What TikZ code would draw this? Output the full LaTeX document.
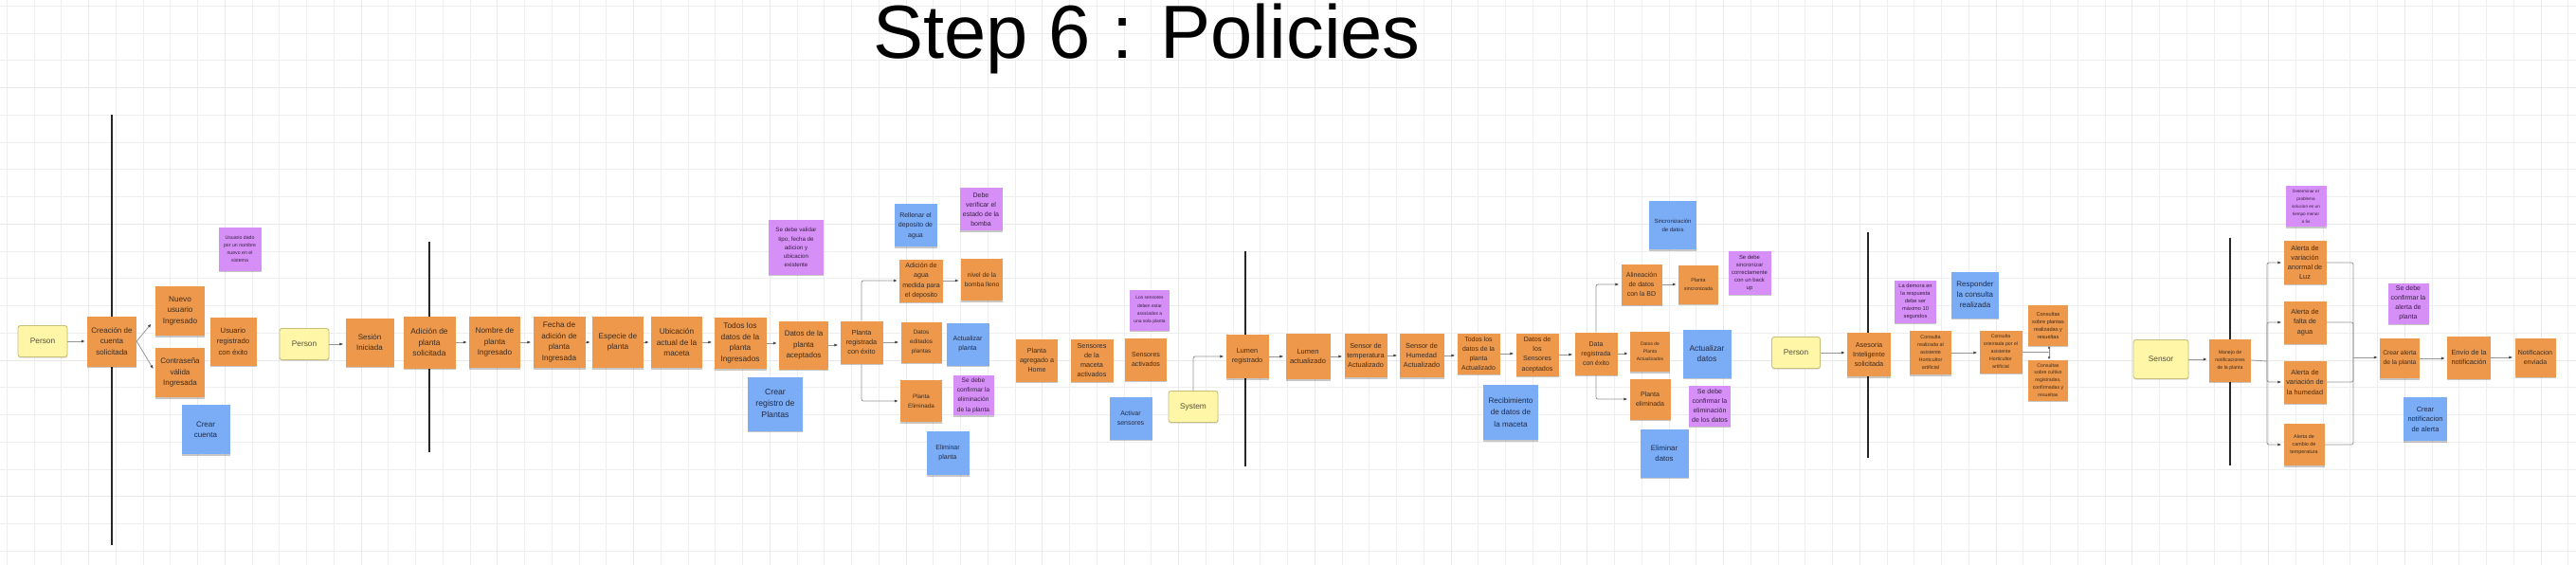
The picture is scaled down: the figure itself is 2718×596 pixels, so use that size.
\documentclass[tikz,border=0pt]{standalone}
\usepackage{fontspec}
\setmainfont{Liberation Sans}
\usetikzlibrary{arrows.meta,shadows,calc}
\definecolor{evf}{RGB}{237,152,74}
\definecolor{evt}{RGB}{62,44,32}
\definecolor{cmdf}{RGB}{122,173,245}
\definecolor{cmdt}{RGB}{32,42,72}
\definecolor{polf}{RGB}{214,143,246}
\definecolor{polt}{RGB}{56,30,68}
\definecolor{actf}{RGB}{255,246,168}
\definecolor{actd}{RGB}{200,192,122}
\definecolor{actt}{RGB}{84,80,56}
\definecolor{gridminor}{RGB}{238,238,238}
\definecolor{gridmajor}{RGB}{233,233,233}
\definecolor{lineg}{RGB}{150,150,150}
\definecolor{arrg}{RGB}{70,70,70}
\begin{document}
\begin{tikzpicture}[x=1pt,y=-1pt,
  note/.style={rectangle, inner sep=1pt, align=center,
    drop shadow={shadow xshift=0.3pt,shadow yshift=-1.5pt,opacity=0.22,fill=black}},
  ev/.style={note, fill=evf, text=evt},
  cmd/.style={note, fill=cmdf, text=cmdt},
  pol/.style={note, fill=polf, text=polt},
  act/.style={rectangle, rounded corners=2.5pt, fill=actf, draw=actd, line width=0.9pt,
    text=actt, align=center, font=\fontsize{8.3}{10}\selectfont,
    drop shadow={shadow xshift=0.3pt,shadow yshift=-1.2pt,opacity=0.15,fill=black}},
  sz/.style 2 args={minimum width=#1pt, minimum height=#2pt},
  fs/.style 2 args={font=\fontsize{#1}{#2}\selectfont},
  line/.style={draw=lineg, line width=0.8pt},
  arr/.style={line, -{Latex[length=4pt,width=3.2pt,color=arrg]}, shorten >=2pt},
  elb/.style={arr, rounded corners=2pt},
  sepline/.style={draw=black!85, line width=2pt},
  gmin/.style={draw=gridminor, line width=0.9pt},
  gmaj/.style={draw=gridmajor, line width=1pt}
]
\useasboundingbox (0,0) rectangle (2718,596);
\fill[white] (0,0) rectangle (2718,596);
% grid
\foreach \i in {0,...,94} \draw[gmin] ({7.3+28.75*\i},0) -- ({7.3+28.75*\i},596);
\foreach \j in {0,...,20} \draw[gmin] (0,{6.4+28.75*\j}) -- (2718,{6.4+28.75*\j});
\foreach \i in {0,...,18} \draw[gmaj] ({93.55+143.75*\i},0) -- ({93.55+143.75*\i},596);
\foreach \j in {0,...,3} \draw[gmaj] (0,{92.65+143.75*\j}) -- (2718,{92.65+143.75*\j});

% title
\node[anchor=base, font=\fontsize{79.5}{90}\selectfont, inner sep=0pt] (title) at (1210,62) {Step 6 : Policies};

% pivotal separators
\draw[sepline] (118,121) -- (118,575);
\draw[sepline] (453,255) -- (453,477);
\draw[sepline] (1314,265) -- (1314,492);
\draw[sepline] (1971,245) -- (1971,483);
\draw[sepline] (2353,251) -- (2353,491);

% ---- account creation
\node[act, sz={52}{33}] (P1) at (45,360) {Person};
\node[ev, sz={52}{53}, fs={8}{11.3}] (C1) at (118,360) {Creación de\\cuenta\\solicitada};
\node[ev, sz={52}{52}, fs={8.2}{11.3}] (N1) at (190,328) {Nuevo\\usuario\\Ingresado};
\node[ev, sz={52}{52}, fs={8}{11.3}] (N2) at (190,393) {Contraseña\\válida\\Ingresada};
\node[ev, sz={49}{51}, fs={7.7}{11.3}] (N3) at (246,360) {Usuario\\registrado\\con éxito};
\node[pol, sz={45}{45}, fs={5.2}{8}] (Pol1) at (253,263) {Usuario dado\\por un nombre\\nuevo en el\\sistema};
\node[cmd, sz={51}{52}, fs={8}{11}] (Cmd1) at (217,453) {Crear\\cuenta};
\node[act, sz={52}{33}] (P2) at (321,363) {Person};

% ---- plant registration
\node[ev, sz={51}{51}, fs={8}{10.7}] (S1) at (390,361) {Sesión\\Iniciada};
\node[ev, sz={55}{55}, fs={8.4}{11.3}] (A1) at (453,361) {Adición de\\planta\\solicitada};
\node[ev, sz={54}{54}, fs={8.2}{11.3}] (A2) at (522,361) {Nombre de\\planta\\Ingresado};
\node[ev, sz={55}{54}, fs={8.2}{11.7}] (A3) at (590,361) {Fecha de\\adición de\\planta\\Ingresada};
\node[ev, sz={54}{54}, fs={8.2}{11.3}] (A4) at (652,361) {Especie de\\planta};
\node[ev, sz={54}{54}, fs={8.3}{11.7}] (A5) at (714,361) {Ubicación\\actual de la\\maceta};
\node[ev, sz={55}{54}, fs={8.3}{11.7}] (A6) at (781,362) {Todos los\\datos de la\\planta\\Ingresados};
\node[ev, sz={52}{51}, fs={8}{11.3}] (A7) at (848,364) {Datos de la\\planta\\aceptados};
\node[cmd, sz={58}{57}, fs={8.7}{12}] (Cmd2) at (818,426) {Crear\\registro de\\Plantas};
\node[pol, sz={58}{57}, fs={6.2}{9.2}] (Pol2) at (840,261) {Se debe validar\\tipo, fecha de\\adicion y\\ubicacion\\existente};
\node[ev, sz={45}{45}, fs={7.3}{10.3}] (A8) at (909,361) {Planta\\registrada\\con éxito};
\node[ev, sz={46}{45}, fs={7.1}{10.5}] (B1) at (972,296) {Adición de\\agua\\medida para\\el deposito};
\node[cmd, sz={45}{45}, fs={7}{10.3}] (Cmd3) at (966,238) {Rellenar el\\deposito de\\agua};
\node[pol, sz={45}{45}, fs={7}{10.3}] (Pol3) at (1035,221) {Debe\\verificar el\\estado de la\\bomba};
\node[ev, sz={44}{44}, fs={6.7}{10.7}] (B2) at (1036,295) {nivel de la\\bomba lleno};
\node[ev, sz={43}{43}, fs={6.3}{10}] (B3) at (972,361) {Datos\\editados\\plantas};
\node[cmd, sz={45}{45}, fs={7}{10}] (Cmd4) at (1021,363) {Actualizar\\planta};
\node[ev, sz={44}{44}, fs={6.3}{9.7}] (B4) at (972,423) {Planta\\Eliminada};
\node[pol, sz={43}{42}, fs={6.6}{10.3}] (Pol4) at (1027,417) {Se debe\\confirmar la\\eliminación\\de la planta};
\node[cmd, sz={45}{46}, fs={7}{10.3}] (Cmd5) at (1000,478) {Eliminar\\planta};

% ---- sensors
\node[ev, sz={44}{45}, fs={7.1}{10.2}] (D1) at (1094,380) {Planta\\agregado a\\Home};
\node[ev, sz={45}{45}, fs={7.3}{10.3}] (D2) at (1152,380) {Sensores\\de la\\maceta\\activados};
\node[pol, sz={42}{43}, fs={4.9}{8.3}] (Pol5) at (1213,327) {Los sensores\\deben estar\\asociados a\\una sola planta};
\node[ev, sz={44}{45}, fs={7.1}{10.3}] (D3) at (1209,379) {Sensores\\activados};
\node[cmd, sz={45}{45}, fs={7}{10.7}] (Cmd6) at (1193,441) {Activar\\sensores};
\node[act, sz={52}{33}] (Sys) at (1259,429) {System};
\node[ev, sz={45}{46}, fs={7.3}{10.3}] (E1) at (1316,376) {Lumen\\registrado};
\node[ev, sz={47}{48}, fs={7.5}{10.7}] (E2) at (1380,376) {Lumen\\actualizado};
\node[ev, sz={45}{46}, fs={7.3}{10.3}] (E3) at (1441,375) {Sensor de\\temperatura\\Actualizado};
\node[ev, sz={47}{46}, fs={7.4}{10.3}] (E4) at (1500,375) {Sensor de\\Humedad\\Actualizado};
\node[ev, sz={45}{43}, fs={6.9}{10.2}] (E5) at (1560,373) {Todos los\\datos de la\\planta\\Actualizado};
\node[ev, sz={45}{45}, fs={7.1}{10.3}] (E6) at (1622,374) {Datos de\\los\\Sensores\\aceptados};
\node[cmd, sz={58}{58}, fs={8.1}{12.2}] (Cmd7) at (1594,435) {Recibimiento\\de datos de\\la maceta};
\node[ev, sz={45}{45}, fs={7}{10.3}] (E7) at (1684,373) {Data\\registrada\\con éxito};
\node[ev, sz={43}{43}, fs={7}{9.7}] (F1) at (1732,300) {Alineación\\de datos\\con la BD};
\node[ev, sz={42}{41}, fs={5.4}{8.3}] (F2) at (1792,300) {Planta\\sincronizada};
\node[cmd, sz={50}{51}, fs={6}{9}] (Cmd8) at (1765,238) {Sincronización\\de datos};
\node[pol, sz={45}{45}, fs={5.9}{8.2}] (Pol6) at (1846,288) {Se debe\\sincronizar\\correctamente\\con un back\\up};
\node[ev, sz={42}{42}, fs={5}{7.8}] (F3) at (1741,371) {Datos de\\Planta\\Actualizados};
\node[cmd, sz={51}{51}, fs={8.4}{11}] (Cmd9) at (1801,373) {Actualizar\\datos};
\node[ev, sz={43}{43}, fs={7}{10}] (F4) at (1741,421) {Planta\\eliminada};
\node[pol, sz={44}{43}, fs={7}{10}] (Pol7) at (1804,428) {Se debe\\confirmar la\\eliminación\\de los datos};
\node[cmd, sz={51}{51}, fs={7.8}{10.7}] (Cmd10) at (1756,478) {Eliminar\\datos};

% ---- smart advice
\node[act, sz={51}{33}] (P3) at (1895,372) {Person};
\node[ev, sz={46}{46}, fs={7.3}{10.3}] (G1) at (1972,374) {Asesoria\\Inteligente\\solicitada};
\node[pol, sz={44}{45}, fs={5.7}{8}] (Pol8) at (2021,318) {La demora en\\la respuesta\\debe ser\\máximo 10\\segundos};
\node[ev, sz={44}{46}, fs={5.4}{8}] (G2) at (2037,372) {Consulta\\realizada al\\asistente\\Horticultor\\artificial};
\node[cmd, sz={50}{49}, fs={8}{11}] (Cmd11) at (2084,311) {Responder\\la consulta\\realizada};
\node[ev, sz={45}{45}, fs={5.2}{8}] (G3) at (2111,371) {Consulta\\orientada por el\\asistente\\Horticultor\\artificial};
\node[ev, sz={42}{43}, fs={5.6}{8}] (G4) at (2161,343) {Consultas\\sobre plantas\\realizadas y\\resueltas};
\node[ev, sz={42}{43}, fs={5.2}{7.9}] (G5) at (2161,401) {Consultas\\sobre cultivo\\registradas,\\confirmadas y\\resueltas};

% ---- notifications
\node[act, sz={58}{41}] (Sen) at (2280,379) {Sensor};
\node[ev, sz={44}{45}, fs={5.2}{8}] (H1) at (2353,380) {Manejo de\\notificaciones\\de la planta};
\node[pol, sz={43}{43}, fs={4.6}{8}] (Pol9) at (2433,218) {Determinar el\\problema\\solucion en un\\tiempo menor\\a 5s};
\node[ev, sz={45}{45}, fs={7.3}{10.2}] (H2) at (2432,277) {Alerta de\\variación\\anormal de\\Luz};
\node[ev, sz={45}{45}, fs={7.3}{10.5}] (H3) at (2432,340) {Alerta de\\falta de\\agua};
\node[ev, sz={45}{45}, fs={7.3}{10.5}] (H4) at (2432,403) {Alerta de\\variación de\\la humedad};
\node[ev, sz={43}{44}, fs={5.4}{8}] (H5) at (2431,469) {Alerta de\\cambio de\\temperatura};
\node[ev, sz={42}{42}, fs={6.7}{10}] (H6) at (2532,378) {Crear alerta\\de la planta};
\node[pol, sz={43}{43}, fs={7}{10}] (Pol10) at (2541,320) {Se debe\\confirmar la\\alerta de\\planta};
\node[cmd, sz={46}{46}, fs={7.4}{10.5}] (Cmd12) at (2559,442) {Crear\\notificacion\\de alerta};
\node[ev, sz={46}{45}, fs={7.4}{10.3}] (H7) at (2605,377) {Envío de la\\notificación};
\node[ev, sz={43}{41}, fs={7}{9.3}] (H8) at (2675,377) {Notificacion\\enviada};

% ---- connectors
\draw[arr] (P1.east) -- (P1.east -| C1.west);
\draw[arr] (C1.east) -- ([xshift=-3pt,yshift=-12pt]N1.west);
\draw[arr] (C1.east) -- ([xshift=-1pt,yshift=2pt]N2.west);
\draw[arr] (P2.east) -- (P2.east -| S1.west);
\draw[arr] (A1.east) -- (A1.east -| A2.west);
\draw[arr] (A2.east) -- (A2.east -| A3.west);
\draw[arr] (A3.east) -- (A3.east -| A4.west);
\draw[arr] (A4.east) -- (A4.east -| A5.west);
\draw[arr] (A5.east) -- (A5.east -| A6.west);
\draw[arr] (A6.east) -- (A6.east -| A7.west);
\draw[arr] (A7.east) -- (A7.east -| A8.west);
\draw[elb] (A8.north) |- (B1.west);
\draw[arr] (A8.east) -- (A8.east -| B3.west);
\draw[elb] (A8.south) |- (B4.west);
\draw[arr] (B1.east) -- (B1.east -| B2.west);
\draw[elb] (Sys.north) |- (E1.west);
\draw[arr] (E1.east) -- (E1.east -| E2.west);
\draw[arr] (E2.east) -- (E2.east -| E3.west);
\draw[arr] (E3.east) -- (E3.east -| E4.west);
\draw[arr] (E4.east) -- (E4.east -| E5.west);
\draw[arr] (E5.east) -- (E5.east -| E6.west);
\draw[arr] (E6.east) -- (E6.east -| E7.west);
\draw[elb] (E7.north) |- (F1.west);
\draw[arr] (E7.east) -- (E7.east -| F3.west);
\draw[elb] (E7.south) |- (F4.west);
\draw[arr] (F1.east) -- (F1.east -| F2.west);
\draw[arr] (P3.east) -- (P3.east -| G1.west);
\draw[arr] (G2.east) -- (G2.east -| G3.west);
\coordinate (gs) at (2162,371);
\draw[line] (G3.east) -- (gs);
\draw[arr, shorten >=0pt, -{Latex[length=3pt,width=2.6pt,color=arrg]}] (gs) -- (gs |- G4.south);
\draw[arr, shorten >=0pt, -{Latex[length=3pt,width=2.6pt,color=arrg]}] (gs) -- (gs |- G5.north);
\draw[arr] (Sen.east) -- (Sen.east -| H1.west);
\coordinate (hf) at (2392,381);
\draw[line] (H1.east) -- (hf);
\draw[elb] (hf) |- (H2.west);
\draw[elb] (hf) |- (H3.west);
\draw[elb] (hf) |- (H4.west);
\draw[elb] (hf) |- (H5.west);
\coordinate (hm) at (2483,377);
\draw[line, rounded corners=2pt] (H2.east) -| (hm);
\draw[line, rounded corners=2pt] (H3.east) -| (hm);
\draw[line, rounded corners=2pt] (H4.east) -| (hm);
\draw[line, rounded corners=2pt] (H5.east) -| (hm);
\draw[arr] (hm) -- (hm -| H6.west);
\draw[arr] (H6.east) -- (H6.east -| H7.west);
\draw[arr] (H7.east) -- (H7.east -| H8.west);
\end{tikzpicture}
\end{document}
